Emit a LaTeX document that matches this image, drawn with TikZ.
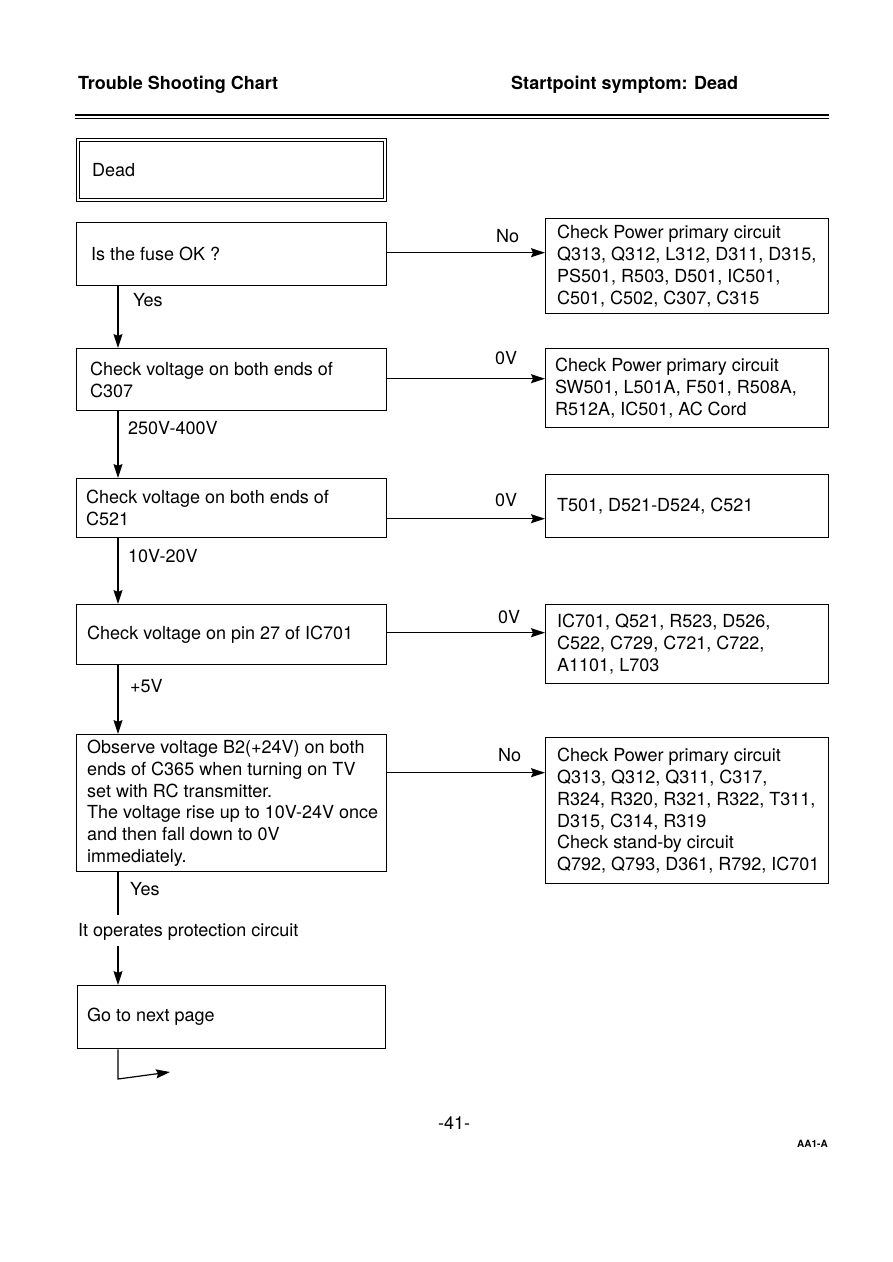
\documentclass[tikz,border=0pt]{standalone}
\usepackage{fontspec}
\setmainfont{TeX Gyre Heros}
\usetikzlibrary{arrows.meta}
\begin{document}
\begin{tikzpicture}[x=1pt,y=-1pt,
  box/.style={draw, line width=1.4pt, minimum width=310pt, inner sep=0pt, anchor=north west},
  rbox/.style={box, minimum width=283pt},
  txt/.style={font=\fontsize{18}{21.8}\selectfont, align=left, inner sep=0pt, anchor=west},
  lbl/.style={font=\fontsize{18}{21.8}\selectfont, inner sep=0pt, anchor=base west},
  hdr/.style={font=\fontsize{18}{20}\selectfont\bfseries, inner sep=0pt, anchor=base west},
  conn/.style={line width=1.2pt},
  arr/.style={conn, -{Stealth[length=14pt,width=9pt,inset=2pt]}}]
\useasboundingbox (0,0) rectangle (893,1262);
% header
\node[hdr] (title) at (78,89) {Trouble Shooting Chart};
\node[hdr] (symptom) at (511,89) {Startpoint symptom: Dead};
\draw[line width=2.5pt] (75,115) -- (829,115);
\draw[line width=1pt] (75,118.5) -- (829,118.5);
% left column
\node[box, minimum height=63pt] (dead) at (76,138) {};
\node[box, line width=1pt, minimum width=304pt, minimum height=57pt] (deadin) at (79,141) {};
\node[txt] (tdead) at ([xshift=16pt]dead.west) {Dead};
\node[box, minimum height=63pt] (b2) at (76,222) {};
\node[txt] (t2) at ([xshift=15pt]b2.west) {Is the fuse OK ?};
\node[box, minimum height=62pt] (b3) at (76,348) {};
\node[txt] (t3) at ([xshift=14pt]b3.west) {Check voltage on both ends of\\C307};
\node[box, minimum height=59pt] (b4) at (76,478) {};
\node[txt] (t4) at ([xshift=10pt]b4.west) {Check voltage on both ends of\\C521};
\node[box, minimum height=60pt] (b5) at (76,604) {};
\node[txt] (t5) at ([xshift=11pt]b5.west) {Check voltage on pin 27 of IC701};
\node[box, minimum height=137pt] (b6) at (76,734) {};
\node[txt] (t6) at ([xshift=11pt]b6.west) {Observe voltage B2(+24V) on both\\ends of C365 when turning on TV\\set with RC transmitter.\\The voltage rise up to 10V-24V once\\and then fall down to 0V\\immediately.};
\node[box, minimum width=308pt, minimum height=63pt] (b7) at (77,985) {};
\node[txt] (t7) at ([xshift=10pt]b7.west) {Go to next page};
% right column
\node[rbox, minimum height=95pt] (r1) at (545,218) {};
\node[txt] (tr1) at ([xshift=12pt]r1.west) {Check Power primary circuit\\Q313, Q312, L312, D311, D315,\\PS501, R503, D501, IC501,\\C501, C502, C307, C315};
\node[rbox, minimum height=79pt] (r2) at (545,348) {};
\node[txt] (tr2) at ([xshift=10pt]r2.west) {Check Power primary circuit\\SW501, L501A, F501, R508A,\\R512A, IC501, AC Cord};
\node[rbox, minimum height=63pt] (r3) at (545,474) {};
\node[txt] (tr3) at ([xshift=12pt]r3.west) {T501, D521-D524, C521};
\node[rbox, minimum height=79pt] (r4) at (545,604) {};
\node[txt] (tr4) at ([xshift=12pt]r4.west) {IC701, Q521, R523, D526,\\C522, C729, C721, C722,\\A1101, L703};
\node[rbox, minimum height=146pt] (r5) at (545,737) {};
\node[txt] (tr5) at ([xshift=12pt]r5.west) {Check Power primary circuit\\Q313, Q312, Q311, C317,\\R324, R320, R321, R322, T311,\\D315, C314, R319\\Check stand-by circuit\\Q792, Q793, D361, R792, IC701};
% horizontal connectors
\draw[arr] ([yshift=1.5pt]b2.east) -- ([yshift=1.5pt]b2.east -| r1.west);
\draw[arr] ([yshift=1pt]b3.east) -- ([yshift=1pt]b3.east -| r2.west);
\draw[arr] ([yshift=-10.5pt]b4.east) -- ([yshift=-10.5pt]b4.east -| r3.west);
\draw[arr] ([yshift=2pt]b5.east) -- ([yshift=2pt]b5.east -| r4.west);
\draw[arr] ([yshift=30.5pt]b6.east) -- ([yshift=30.5pt]b6.east -| r5.west);
\node[lbl] (l1) at (496,242) {No};
\node[lbl] (l2) at (495,364) {0V};
\node[lbl] (l3) at (495,506) {0V};
\node[lbl] (l4) at (498,623) {0V};
\node[lbl] (l5) at (498,761) {No};
% vertical connectors
\draw[arr] ([xshift=42pt]b2.south west) -- ([xshift=42pt]b3.north west);
\draw[arr] ([xshift=42pt]b3.south west) -- ([xshift=42pt]b4.north west);
\draw[arr] ([xshift=42pt]b4.south west) -- ([xshift=42pt]b5.north west);
\draw[arr] ([xshift=42pt]b5.south west) -- ([xshift=42pt]b6.north west);
\node[lbl] (y1) at (133,306) {Yes};
\node[lbl] (y2) at (128,434) {250V-400V};
\node[lbl] (y3) at (128,562) {10V-20V};
\node[lbl] (y4) at (130,692) {+5V};
\node[lbl] (y5) at (130,895) {Yes};
\coordinate (c1) at (118,915);
\draw[conn] ([xshift=42pt]b6.south west) -- (c1);
\node[lbl] (prot) at (78,936) {It operates protection circuit};
\coordinate (c2) at (118,946);
\draw[arr] (c2) -- (c2 |- b7.north);
\coordinate (c3) at (118,1079);
\coordinate (c4) at (170,1072);
\draw[arr] ([xshift=41pt]b7.south west) -- (c3) -- (c4);
% footer
\node[lbl] (page) at (438,1129) {-41-};
\node[hdr, font=\fontsize{10}{12}\selectfont\bfseries] (code) at (797,1147) {AA1-A};
\end{tikzpicture}
\end{document}
